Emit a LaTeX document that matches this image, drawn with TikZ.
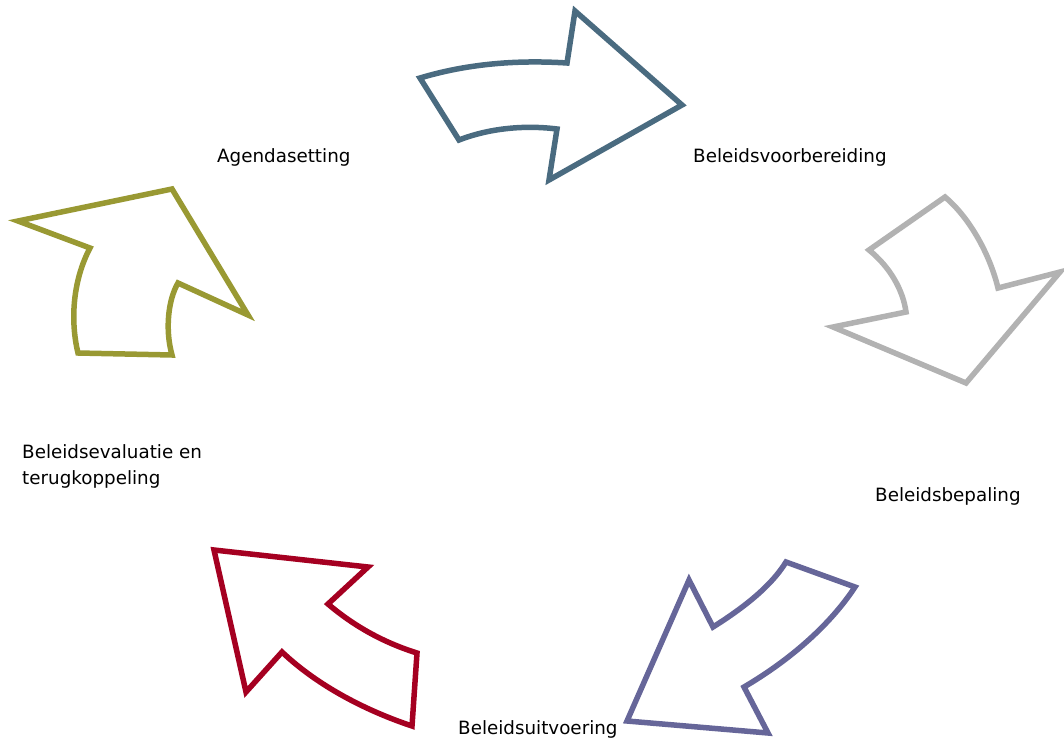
\documentclass[tikz,border=0pt]{standalone}
\usepackage{fontspec}
\setmainfont{DejaVu Sans}
\usepackage{tikz}
\definecolor{prepcol}{RGB}{74,107,128}
\definecolor{decicol}{RGB}{178,178,178}
\definecolor{execcol}{RGB}{102,102,153}
\definecolor{evalcol}{RGB}{165,0,33}
\definecolor{agencol}{RGB}{153,153,51}
\tikzset{
    x=1pt, y=-1pt, % Work in pixels of the picture, y pointing down
    phasearrow/.style={ % Outline of each curved arrow
        line width=5.5pt,
        draw=#1,
        fill=white
    },
    phaselabel/.style={ % Text of each phase
        inner sep=0pt,
        anchor=base west,
        font=\fontsize{18.3}{26}\selectfont
    }
}
\begin{document}
\begin{tikzpicture}
    \useasboundingbox (0,0) rectangle (1064,741);
    % arrows
    \draw[phasearrow=prepcol] (420,78) .. controls (470,63) and (520,60) .. (567,63)
        -- (575,11) -- (682,105) -- (549,180) -- (557,129)
        .. controls (525,125) and (490,128) .. (459,140) -- cycle;
    \draw[phasearrow=decicol] (869,250) -- (945,197)
        .. controls (970,218) and (990,255) .. (998,288)
        -- (1060,272) -- (966,383) -- (833,327) -- (906,312)
        .. controls (903,290) and (890,267) .. cycle;
    \draw[phasearrow=execcol] (786,562) -- (855,587)
        .. controls (830,625) and (790,660) .. (744,687)
        -- (768,733) -- (627,721) -- (689,580) -- (713,627)
        .. controls (740,610) and (770,588) .. cycle;
    \draw[phasearrow=evalcol] (214,550) -- (368,567) -- (328,604)
        .. controls (355,627) and (385,643) .. (417,653)
        -- (412,726) .. controls (370,712) and (320,688) .. (282,652)
        -- (246,692) -- cycle;
    \draw[phasearrow=agencol] (18,221) -- (172,189) -- (248,315) -- (178,283)
        .. controls (168,300) and (165,330) .. (172,355)
        -- (78,353) .. controls (70,320) and (73,280) .. (90,248) -- cycle;
    % labels
    \node[phaselabel] (agenda) at (217,162) {Agendasetting};
    \node[phaselabel] (prep) at (693,162) {Beleidsvoorbereiding};
    \node[phaselabel] (decide) at (875,501) {Beleidsbepaling};
    \node[phaselabel] (exec) at (458,734) {Beleidsuitvoering};
    \node[phaselabel, anchor=north west, align=left] (eval) at (22,444) {Beleidsevaluatie en\\terugkoppeling};
\end{tikzpicture}
\end{document}
